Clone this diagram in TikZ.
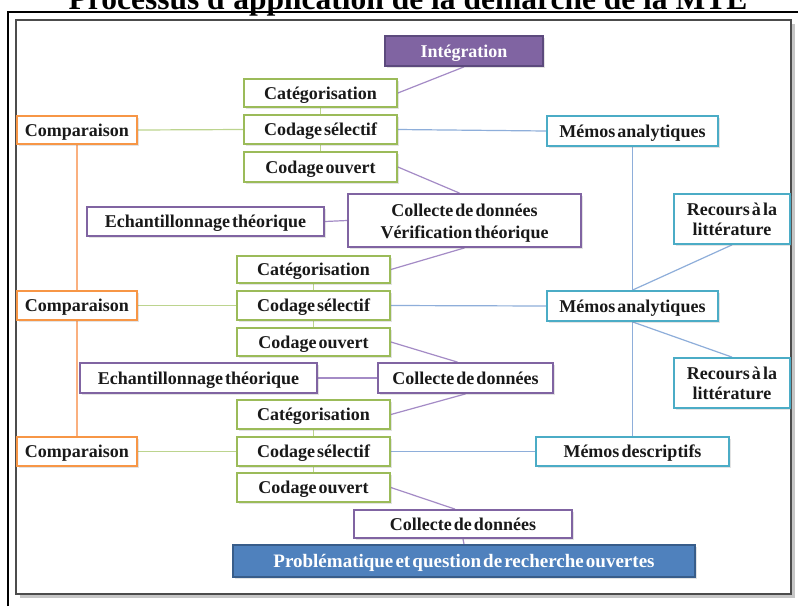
\documentclass[tikz,border=0pt]{standalone}
\usepackage{fontspec}
\setmainfont{Liberation Serif}[WordSpace=0.45]
\newfontfamily\titlefont{Liberation Serif}
\usetikzlibrary{shadows,calc}
\pgfdeclarelayer{framelayer}
\pgfdeclarelayer{connlayer}
\pgfsetlayers{framelayer,connlayer,main}
\definecolor{cgreen}{HTML}{9BBB59}
\definecolor{corange}{HTML}{F79646}
\definecolor{cpurple}{HTML}{8064A2}
\definecolor{ccyan}{HTML}{4BACC6}
\definecolor{cintfill}{HTML}{8064A2}
\definecolor{cintdraw}{HTML}{5C4A7D}
\definecolor{cprobfill}{HTML}{4F81BD}
\definecolor{cprobdraw}{HTML}{385D8A}
\definecolor{lgreen}{HTML}{BCD48E}
\definecolor{lorange}{HTML}{FAB07F}
\definecolor{lblue}{HTML}{8EAEDA}
\definecolor{lpurple}{HTML}{A48BC6}
\newcommand\mkbox[7]{\node[#1,minimum width={(#5)-(#3)},minimum height={(#6)-(#4)}] (#2) at ({((#3)+(#5))/2},{((#4)+(#6))/2}) {#7};}
\begin{document}
\begin{tikzpicture}[x=1pt,y=-1pt,
  base/.style={draw,line width=1.8pt,fill=white,inner sep=0pt,text height=12.5pt,text depth=0pt,
    font=\bfseries\fontsize{18}{22}\selectfont,text=black!90,
    drop shadow={opacity=0.22,shadow xshift=1.5pt,shadow yshift=-1.5pt}},
  gbox/.style={base,draw=cgreen},
  obox/.style={base,draw=corange},
  pbox/.style={base,draw=cpurple},
  cbox/.style={base,draw=ccyan},
  twoline/.style={align=center,text height=35pt,text depth=0pt},
  recline/.style={align=center,font=\bfseries\fontsize{18}{20.5}\selectfont,text height=33pt,text depth=0pt},
  intbox/.style={base,draw=cintdraw,fill=cintfill,text=white},
  probbox/.style={base,draw=cprobdraw,fill=cprobfill,text=white,font=\bfseries\fontsize{19}{22}\selectfont},
  conn/.style={line width=1.2pt},
  gline/.style={conn,draw=lgreen},
  oline/.style={conn,draw=lorange},
  bline/.style={conn,draw=lblue},
  pline/.style={conn,draw=lpurple}]
\useasboundingbox (0,0) rectangle (798,606);
% page lines and title
\node[font=\titlefont\bfseries\fontsize{31.5}{32}\selectfont,anchor=base,inner sep=0pt] (title) at (408,9) {Processus d'application de la démarche de la MTE};
\begin{pgfonlayer}{framelayer}
\draw[line width=1.5pt] (8,606) -- (8,12) -- (798,12);
\draw[line width=1.5pt,draw=black!70,fill=white,
  drop shadow={opacity=0.45,shadow xshift=4pt,shadow yshift=-4pt}] (16,20) rectangle (791,594);
\end{pgfonlayer}
% boxes
\mkbox{intbox}{int}{385}{36}{543}{66}{Intégration}
\mkbox{gbox}{cat1}{244}{79}{397}{107}{Catégorisation}
\mkbox{gbox}{cs1}{244}{115}{397}{144}{Codage sélectif}
\mkbox{gbox}{co1}{244}{152}{397}{182}{Codage ouvert}
\mkbox{obox}{cmp1}{17}{116}{137}{144}{Comparaison}
\mkbox{pbox}{ech1}{87}{207}{324}{236}{Echantillonnage théorique}
\mkbox{pbox,twoline}{col1}{348}{194}{581}{247}{Collecte de données\\Vérification théorique}
\mkbox{cbox}{ma1}{547}{116}{718}{146}{Mémos analytiques}
\mkbox{cbox,recline}{rec1}{674}{194}{790}{244}{Recours à la\\littérature}
\mkbox{gbox}{cat2}{237}{256}{390}{283}{Catégorisation}
\mkbox{gbox}{cs2}{237}{291}{390}{320}{Codage sélectif}
\mkbox{gbox}{co2}{237}{328}{390}{356}{Codage ouvert}
\mkbox{obox}{cmp2}{17}{291}{137}{320}{Comparaison}
\mkbox{pbox}{ech2}{80}{363}{317}{393}{Echantillonnage théorique}
\mkbox{pbox}{col2}{378}{363}{553}{393}{Collecte de données}
\mkbox{cbox}{ma2}{547}{291}{718}{321}{Mémos analytiques}
\mkbox{cbox,recline}{rec2}{674}{358}{790}{408}{Recours à la\\littérature}
\mkbox{gbox}{cat3}{237}{400}{390}{429}{Catégorisation}
\mkbox{gbox}{cs3}{237}{437}{390}{466}{Codage sélectif}
\mkbox{gbox}{co3}{237}{473}{390}{502}{Codage ouvert}
\mkbox{obox}{cmp3}{17}{437}{137}{466}{Comparaison}
\mkbox{cbox}{md}{536}{437}{729}{466}{Mémos descriptifs}
\mkbox{pbox}{col3}{354}{510}{572}{538}{Collecte de données}
\mkbox{probbox}{prob}{233}{545}{695}{577}{Problématique et question de recherche ouvertes}
% connectors
\begin{pgfonlayer}{connlayer}
\draw[pline] (int.south) -- (cat1.east);
\draw[gline] (cat1.south) -- (cs1.north);
\draw[gline] (cs1.south) -- (co1.north);
\draw[gline] (cmp1.east) -- (cs1.west);
\draw[oline] (cmp1.south) -- (cmp2.north);
\draw[bline] (cs1.east) -- (ma1.west);
\draw[pline] (co1.east) -- ($(col1.north)+(-5,0)$);
\draw[pline] (ech1.east) -- (col1.west);
\draw[pline] (col1.south) -- (cat2.east);
\draw[bline] (ma1.south) -- (ma2.north);
\draw[bline] (rec1.south) -- (ma2.north);
\draw[gline] (cat2.south) -- (cs2.north);
\draw[gline] (cs2.south) -- (co2.north);
\draw[gline] (cmp2.east) -- (cs2.west);
\draw[bline] (cs2.east) -- (ma2.west);
\draw[pline] (co2.east) -- ($(col2.north)+(-8,0)$);
\draw[pline] (ech2.east) -- (col2.west);
\draw[pline] (col2.south) -- (cat3.east);
\draw[bline] (ma2.south) -- (rec2.north);
\draw[bline] (ma2.south) -- (md.north);
\draw[oline] (cmp2.south) -- (cmp3.north);
\draw[gline] (cat3.south) -- (cs3.north);
\draw[gline] (cs3.south) -- (co3.north);
\draw[gline] (cmp3.east) -- (cs3.west);
\draw[bline] (cs3.east) -- (md.west);
\draw[pline] (co3.east) -- ($(col3.north)+(-8,0)$);
\draw[pline] (col3.south) -- (prob.north);
\end{pgfonlayer}
\end{tikzpicture}
\end{document}
